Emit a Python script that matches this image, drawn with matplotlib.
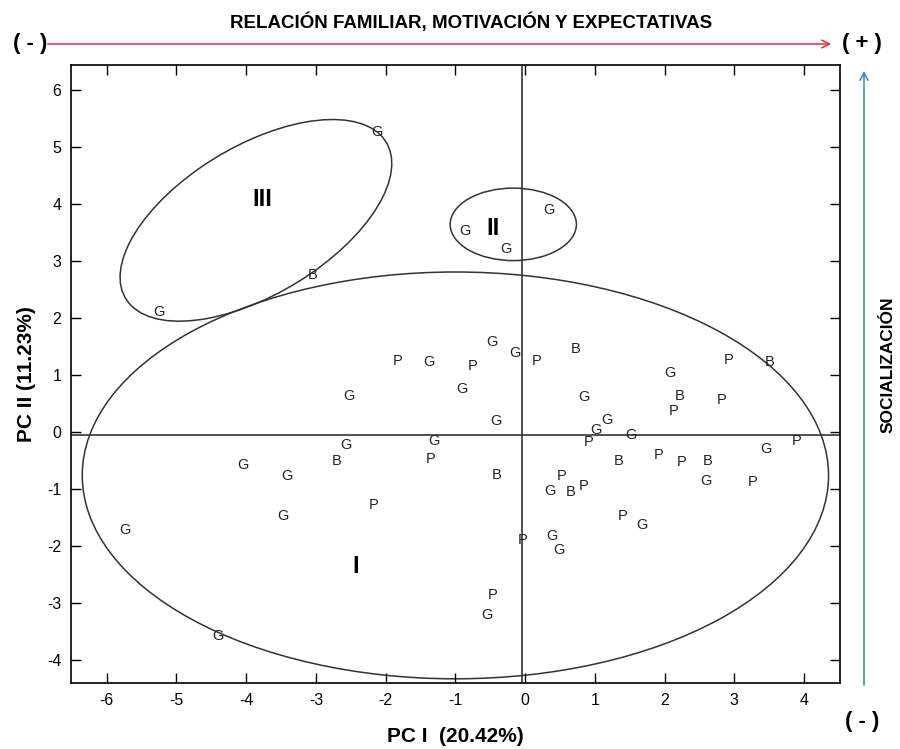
import matplotlib
matplotlib.use('Agg')
import matplotlib.pyplot as plt
from matplotlib.patches import Ellipse

plt.rcParams['font.family'] = ['Liberation Sans', 'DejaVu Sans']
plt.rcParams['axes.unicode_minus'] = False

# puntuaciones de cada alumno en PC I / PC II y su grupo (G, P, B)
pc1 = [-2.13, -3.04, -5.25,
       0.34, -0.87, -0.27,
       -1.83, -1.38, -0.48, -0.75, -0.15, 0.16, 0.72, -0.91, -2.53, -0.42,
       0.85, 2.07, 2.92, 3.50, 2.21, 2.13, 2.82, 1.17, 1.01, 0.91, 1.51,
       3.89, 3.45, -2.57, -1.31, -2.71, -1.35, -4.05, -3.42, -0.41, -2.17,
       -3.47, -5.74, 1.34, 1.91, 2.24, 2.61, 2.59, 3.26, 0.52, 0.35, 0.65,
       0.84, 1.40, 1.67, -0.04, 0.38, 0.48, -0.47, -0.55, -4.41]
pc2 = [5.25, 2.75, 2.10,
       3.89, 3.52, 3.20,
       1.24, 1.22, 1.57, 1.15, 1.38, 1.24, 1.46, 0.76, 0.63, 0.20,
       0.62, 1.03, 1.27, 1.22, 0.63, 0.36, 0.57, 0.21, 0.03, -0.17, -0.05,
       -0.15, -0.30, -0.22, -0.15, -0.50, -0.47, -0.57, -0.77, -0.75, -1.28,
       -1.48, -1.72, -0.50, -0.40, -0.52, -0.50, -0.85, -0.88, -0.77, -1.03,
       -1.05, -0.95, -1.48, -1.63, -1.90, -1.82, -2.07, -2.85, -3.20, -3.58]
grupo = ['G', 'B', 'G',
         'G', 'G', 'G',
         'P', 'G', 'G', 'P', 'G', 'P', 'B', 'G', 'G', 'G',
         'G', 'G', 'P', 'B', 'B', 'P', 'P', 'G', 'G', 'P', 'G',
         'P', 'G', 'G', 'G', 'B', 'P', 'G', 'G', 'B', 'P',
         'G', 'G', 'B', 'P', 'P', 'B', 'G', 'P', 'P', 'G', 'B',
         'P', 'P', 'G', 'P', 'G', 'G', 'P', 'G', 'G']

# conglomerados: centro, ancho, alto, angulo
clusters = {'I': ((-1.0, -0.76), 10.7, 7.13, 0),
            'II': ((-0.17, 3.64), 1.81, 1.27, 0),
            'III': ((-3.86, 3.71), 4.66, 2.44, 40.1)}
cluster_labels = {'I': (-2.43, -2.36), 'II': (-0.46, 3.57), 'III': (-3.77, 4.07)}

fig = plt.figure(figsize=(9, 7.49), dpi=100)
ax = fig.add_axes([0.079, 0.088, 0.854, 0.825])

for x, y, g in zip(pc1, pc2, grupo):
    ax.text(x, y, g, fontsize=10.5, ha='center', va='center', color='#222222')

for k, (c, w, h, ang) in clusters.items():
    ax.add_patch(Ellipse(c, w, h, angle=ang, fill=False, ec='#333333', lw=1.1))
    ax.text(*cluster_labels[k], k, fontsize=17, fontweight='bold', ha='center',
            va='center')

ax.axhline(-0.05, color='#333333', lw=1.2)
ax.axvline(-0.05, color='#333333', lw=1.2)

ax.set_xlim(-6.51, 4.51)
ax.set_ylim(-4.40, 6.43)
ax.set_xticks(range(-6, 5))
ax.set_yticks(range(-4, 7))
ax.tick_params(direction='in', length=7, width=1, top=True, right=True,
               labelsize=11.5, pad=7)
for s in ax.spines.values():
    s.set_linewidth(1.2)

ax.set_xlabel('PC I  (20.42%)', fontsize=15, fontweight='bold', labelpad=14)
ax.set_ylabel('PC II (11.23%)', fontsize=15, fontweight='bold', labelpad=8)

# ejes interpretativos
fig.text(471 / 900, 1 - 22 / 749, 'RELACIÓN FAMILIAR, MOTIVACIÓN Y EXPECTATIVAS',
         fontsize=13.5, fontweight='bold', ha='center', va='center')
ax.annotate('', xy=(834 / 900, 1 - 44 / 749), xytext=(45 / 900, 1 - 44 / 749),
            xycoords='figure fraction', textcoords='figure fraction',
            arrowprops=dict(arrowstyle='->', color='#e0303a', lw=1.1, mutation_scale=14))
fig.text(30 / 900, 1 - 43 / 749, '( - )', fontsize=16, fontweight='bold',
         ha='center', va='center')
fig.text(862 / 900, 1 - 43 / 749, '( + )', fontsize=16, fontweight='bold',
         ha='center', va='center')

ax.annotate('', xy=(864 / 900, 1 - 68 / 749), xytext=(864 / 900, 1 - 688 / 749),
            xycoords='figure fraction', textcoords='figure fraction',
            arrowprops=dict(arrowstyle='->', color='#2f86b8', lw=1.1, mutation_scale=14))
fig.text(888 / 900, 1 - 365 / 749, 'SOCIALIZACIÓN', fontsize=12.5, fontweight='bold',
         rotation=90, ha='center', va='center')
fig.text(862 / 900, 1 - 722 / 749, '( - )', fontsize=16, fontweight='bold',
         ha='center', va='center')

fig.savefig('out.png', dpi=100, facecolor='white')
